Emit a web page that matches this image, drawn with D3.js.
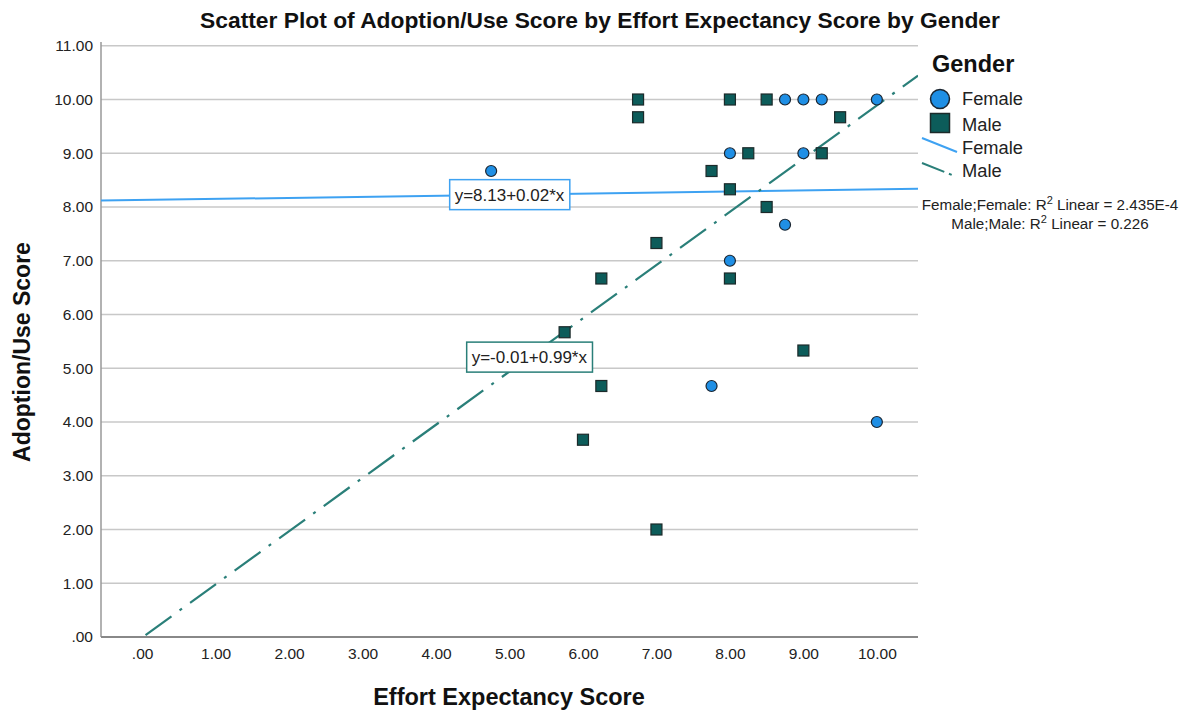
<!DOCTYPE html>
<html>
<head>
<meta charset="utf-8">
<script src="https://cdn.jsdelivr.net/npm/d3@7"></script>
<style>
  html, body { margin: 0; padding: 0; background: #fff; }
  svg { display: block; font-family: "Liberation Sans", Arial, sans-serif; }
</style>
</head>
<body>
<svg id="chart" width="1190" height="714"></svg>
<script>
// Effort Expectancy (x) vs Adoption/Use (y), split by gender
const femaleX = [4.75, 8.75, 9.0, 9.25, 10.0, 8.0, 9.0, 8.75, 8.0, 7.75, 10.0];
const femaleY = [8.67, 10.0, 10.0, 10.0, 10.0, 9.0, 9.0, 7.67, 7.0, 4.67, 4.0];

const maleX = [6.75, 6.75, 8.0, 8.5, 9.5, 8.25, 9.25, 7.75, 8.0, 8.5, 7.0, 6.25, 8.0, 5.75, 9.0, 6.25, 6.0, 7.0];
const maleY = [10.0, 9.67, 10.0, 10.0, 9.67, 9.0, 9.0, 8.67, 8.33, 8.0, 7.33, 6.67, 6.67, 5.67, 5.33, 4.67, 3.67, 2.0];

// Linear fit coefficients [intercept, slope] and R² per group
const femaleFit = [8.13, 0.02];
const maleFit = [-0.01, 0.99];
const rSquaredLabels = ["2.435E-4", "0.226"];

const xTicks = [0, 1, 2, 3, 4, 5, 6, 7, 8, 9, 10];
const yTicks = [0, 1, 2, 3, 4, 5, 6, 7, 8, 9, 10, 11];

const titleText = "Scatter Plot of Adoption/Use Score by Effort Expectancy Score by Gender";
const xTitle = "Effort Expectancy Score";
const yTitle = "Adoption/Use Score";
const legendTitle = "Gender";

const femaleFill = "#1f8fe5", maleFill = "#0c5c5a";
const femaleLine = "#3ea2f2", maleLine = "#2a7f79";

const svg = d3.select("#chart");
const plot = { left: 101, right: 918, top: 42, bottom: 637 };

const x = d3.scaleLinear().domain([-0.56, 10.56]).range([plot.left, plot.right]);
const y = d3.scaleLinear().domain([0, 11.07]).range([plot.bottom, plot.top]);

const fmt = v => v === 0 ? ".00" : d3.format(".2f")(v);
const num = v => (v < 0 ? "-" : "") + d3.format(".2f")(Math.abs(v));

// clip region for fit lines
svg.append("defs").append("clipPath").attr("id", "plotClip")
  .append("rect").attr("x", plot.left).attr("y", plot.top)
  .attr("width", plot.right - plot.left).attr("height", plot.bottom - plot.top);

// horizontal gridlines
svg.append("g").selectAll("line").data(yTicks.filter(t => t > 0)).join("line")
  .attr("x1", plot.left).attr("x2", plot.right)
  .attr("y1", d => y(d)).attr("y2", d => y(d))
  .attr("stroke", "#c8c8c8").attr("stroke-width", 1.5);

// axes
const yAxis = svg.append("g").attr("transform", `translate(${plot.left},0)`)
  .call(d3.axisLeft(y).tickValues(yTicks).tickFormat(fmt).tickSize(0).tickPadding(8));
yAxis.select(".domain").attr("stroke", "#999").attr("stroke-width", 1.5)
  .attr("d", `M0,${plot.top}V${plot.bottom}`);
yAxis.selectAll("text").attr("font-size", 15.5).attr("fill", "#222")
  .attr("font-family", "Liberation Sans, Arial, sans-serif");

const xAxis = svg.append("g").attr("transform", `translate(0,${plot.bottom})`)
  .call(d3.axisBottom(x).tickValues(xTicks).tickFormat(fmt).tickSize(0).tickPadding(11));
xAxis.select(".domain").attr("stroke", "#888").attr("stroke-width", 2)
  .attr("d", `M${plot.left},0H${plot.right}`);
xAxis.selectAll("text").attr("font-size", 15.5).attr("fill", "#222")
  .attr("font-family", "Liberation Sans, Arial, sans-serif");

// fit lines
const fitLine = f => [[x.domain()[0], f[0] + f[1] * x.domain()[0]], [x.domain()[1], f[0] + f[1] * x.domain()[1]]];
const lineGen = d3.line().x(d => x(d[0])).y(d => y(d[1]));
const lines = svg.append("g").attr("clip-path", "url(#plotClip)");
lines.append("path").attr("d", lineGen(fitLine(femaleFit)))
  .attr("stroke", femaleLine).attr("stroke-width", 2).attr("fill", "none");
lines.append("path").attr("d", lineGen(fitLine(maleFit)))
  .attr("stroke", maleLine).attr("stroke-width", 2.2).attr("fill", "none")
  .attr("stroke-dasharray", "32,10,3,10");

// points
const femalePts = femaleX.map((v, i) => [v, femaleY[i]]);
const malePts = maleX.map((v, i) => [v, maleY[i]]);
const sq = 11;
svg.append("g").selectAll("rect").data(malePts).join("rect")
  .attr("x", d => x(d[0]) - sq / 2).attr("y", d => y(d[1]) - sq / 2)
  .attr("width", sq).attr("height", sq)
  .attr("fill", maleFill).attr("stroke", "#1c2a2a").attr("stroke-width", 1.2);
svg.append("g").selectAll("circle").data(femalePts).join("circle")
  .attr("cx", d => x(d[0])).attr("cy", d => y(d[1])).attr("r", 5.5)
  .attr("fill", femaleFill).attr("stroke", "#1b2530").attr("stroke-width", 1.2);

// equation labels sitting on the fit lines
function eqLabel(fit, atX, color) {
  const sign = fit[1] >= 0 ? "+" : "-";
  const txt = `y=${num(fit[0])}${sign}${num(Math.abs(fit[1]))}*x`;
  const cx = x(atX), cy = y(fit[0] + fit[1] * atX);
  const g = svg.append("g");
  const t = g.append("text").attr("x", cx).attr("y", cy).attr("dy", "0.36em")
    .attr("text-anchor", "middle").attr("font-size", 17).attr("fill", "#222").text(txt);
  const bb = t.node().getBBox();
  g.insert("rect", "text").attr("x", bb.x - 5).attr("y", cy - 15)
    .attr("width", bb.width + 10).attr("height", 30)
    .attr("fill", "#fff").attr("stroke", color).attr("stroke-width", 1.5);
}
eqLabel(femaleFit, 5.0, femaleLine);
eqLabel(maleFit, 5.27, maleLine);

// titles
svg.append("text").attr("x", 600).attr("y", 28).attr("text-anchor", "middle")
  .attr("font-size", 22.8).attr("font-weight", "bold").attr("fill", "#111").text(titleText);
svg.append("text").attr("x", 509).attr("y", 705).attr("text-anchor", "middle")
  .attr("font-size", 23.5).attr("font-weight", "bold").attr("fill", "#111").text(xTitle);
svg.append("text").attr("transform", "translate(30,352) rotate(-90)").attr("text-anchor", "middle")
  .attr("font-size", 23).attr("font-weight", "bold").attr("fill", "#111").text(yTitle);

// legend
const lg = svg.append("g");
lg.append("text").attr("x", 932).attr("y", 72).attr("font-size", 23.5).attr("font-weight", "bold")
  .attr("fill", "#111").text(legendTitle);
lg.append("circle").attr("cx", 940).attr("cy", 99).attr("r", 9.5)
  .attr("fill", femaleFill).attr("stroke", "#1b2530").attr("stroke-width", 1.5);
lg.append("rect").attr("x", 930.5).attr("y", 113.5).attr("width", 19).attr("height", 19)
  .attr("fill", maleFill).attr("stroke", "#1c2a2a").attr("stroke-width", 1.5);
lg.append("line").attr("x1", 922).attr("y1", 138).attr("x2", 957).attr("y2", 152)
  .attr("stroke", femaleLine).attr("stroke-width", 2);
lg.append("line").attr("x1", 922).attr("y1", 163).attr("x2", 952).attr("y2", 175)
  .attr("stroke", maleLine).attr("stroke-width", 2).attr("stroke-dasharray", "24,5,3,5");
const legendLabels = [["Female", 105], ["Male", 131], ["Female", 154], ["Male", 177]];
lg.selectAll("text.item").data(legendLabels).join("text").attr("class", "item")
  .attr("x", 962).attr("y", d => d[1]).attr("font-size", 18.3).attr("fill", "#222").text(d => d[0]);

// R² notes
const notes = [["Female;Female: R", rSquaredLabels[0], 210], ["Male;Male: R", rSquaredLabels[1], 229]];
notes.forEach(n => {
  const t = lg.append("text").attr("x", 1050).attr("y", n[2]).attr("text-anchor", "middle")
    .attr("font-size", 15.2).attr("fill", "#222");
  t.append("tspan").text(n[0]);
  t.append("tspan").attr("dy", -6).attr("font-size", 11).text("2");
  t.append("tspan").attr("dy", 6).text(` Linear = ${n[1]}`);
});
</script>
</body>
</html>
